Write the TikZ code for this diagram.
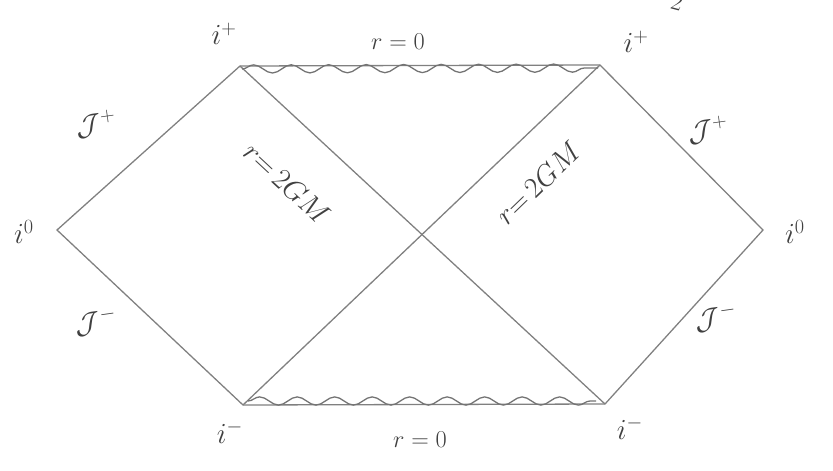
\documentclass[tikz,border=0pt]{standalone}
\usetikzlibrary{decorations.pathmorphing}
\begin{document}
\begin{tikzpicture}[x=0.03cm,y=-0.03cm,
  edge/.style={draw=black!50, line width=1.1pt},
  wavy/.style={draw=black!55, line width=1.1pt, decorate,
    decoration={snake, amplitude=3.5pt, segment length=32pt}},
  lbl/.style={text=black!75, font=\fontsize{20}{24}\selectfont, inner sep=1pt},
  big/.style={lbl, font=\fontsize{24}{28}\selectfont}]
\useasboundingbox (0,0) rectangle (833,470);
\coordinate (TL) at (240,66);
\coordinate (TR) at (600,65);
\coordinate (BL) at (243,405);
\coordinate (BR) at (605,404);
\coordinate (Li0) at (57,230);
\coordinate (Ri0) at (763,230);
\coordinate (ws1) at (242,69);
\coordinate (we1) at (598,68);
\coordinate (ws2) at (248,401);
\coordinate (we2) at (596,401);
% outline
\draw[edge] (Li0) -- (TL) -- (TR) -- (Ri0) -- (BR) -- (BL) -- cycle;
% horizons
\draw[edge] (TL) -- (BR);
\draw[edge] (BL) -- (TR);
% singularities
\draw[wavy] (ws1) -- (we1);
\draw[wavy] (ws2) -- (we2);
% labels
\node[big] (iTL) at (224,34) {$i^{+}$};
\node[lbl] (r0t) at (398,42) {$r=0$};
\node[big] (iTR) at (636,42) {$i^{+}$};
\node[big,rotate=8] (JpL) at (96,124) {$\mathcal{J}^{+}$};
\node[big,rotate=8] (JpR) at (708,130) {$\mathcal{J}^{+}$};
\node[big] (i0L) at (24,232) {$i^{0}$};
\node[big] (i0R) at (795,232) {$i^{0}$};
\node[big,rotate=8] (JmL) at (96,322) {$\mathcal{J}^{-}$};
\node[big,rotate=8] (JmR) at (716,318) {$\mathcal{J}^{-}$};
\node[big] (iBL) at (230,432) {$i^{-}$};
\node[lbl] (r0b) at (420,440) {$r=0$};
\node[big] (iBR) at (630,428) {$i^{-}$};
\node[big,rotate=-43] (rL) at (287,183) {$r{=}\,2GM$};
\node[big,rotate=44] (rR) at (538,183) {$r{=}\,2GM$};
\node[lbl,rotate=-15] (frag) at (677,2) {$2$};
\end{tikzpicture}
\end{document}
